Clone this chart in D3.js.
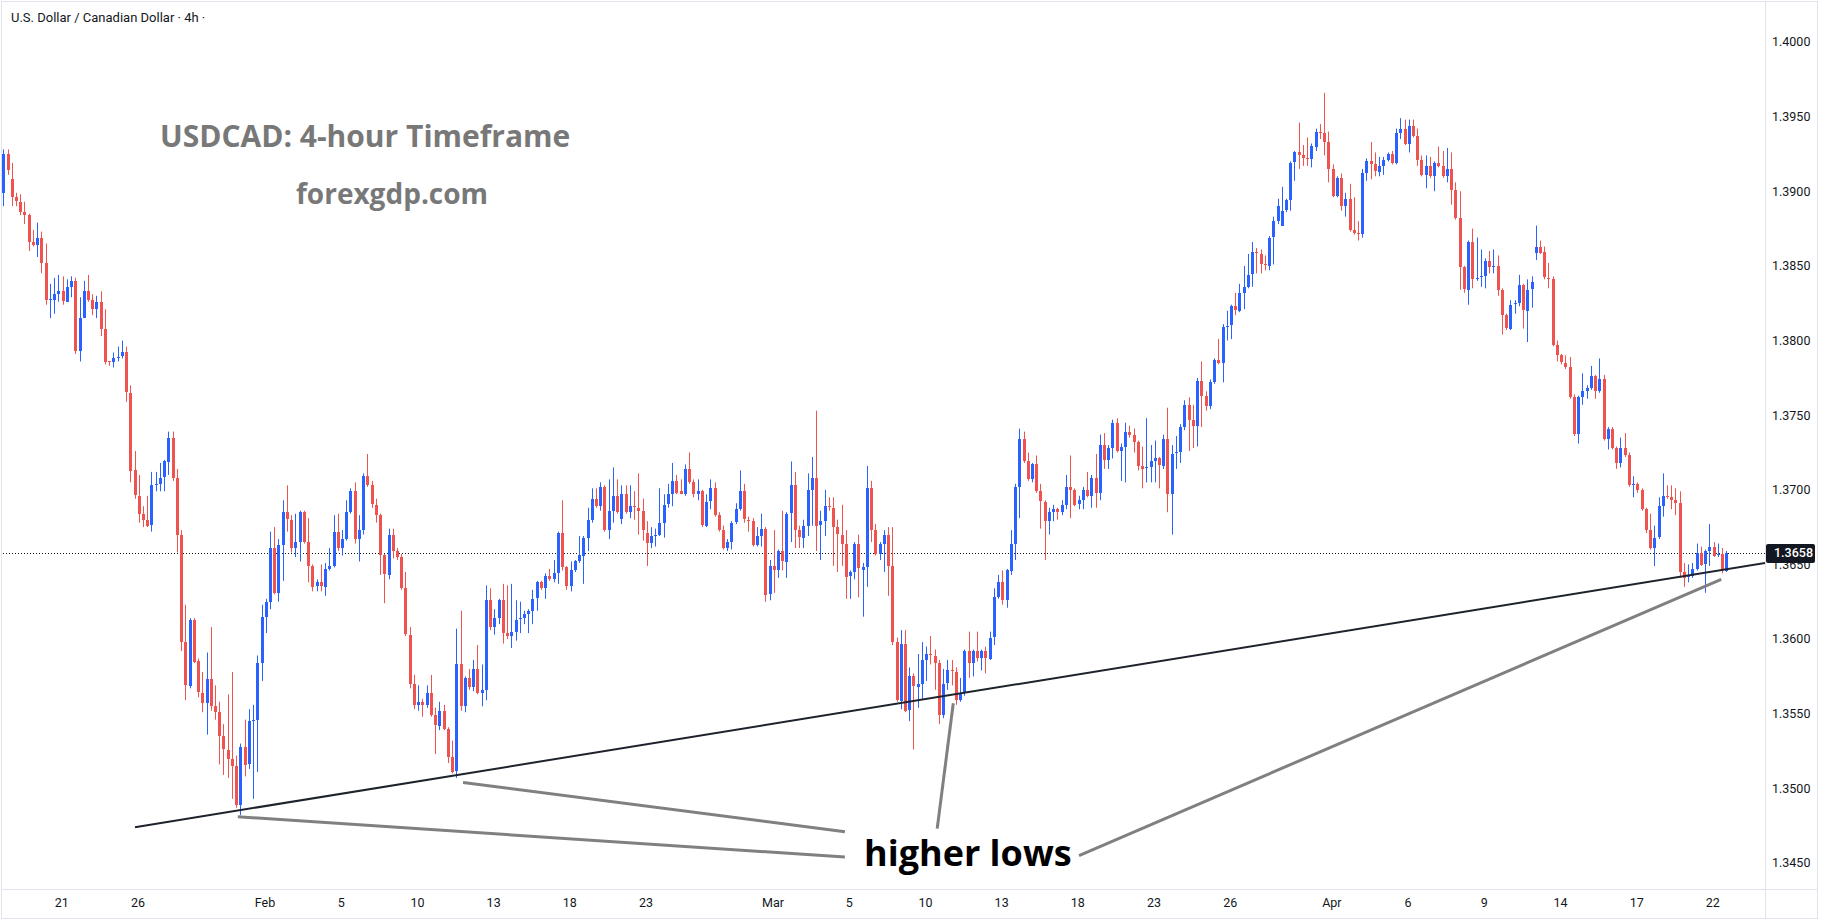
<!DOCTYPE html>
<html>
<head>
<meta charset="utf-8">
<title>USDCAD 4h</title>
<script src="https://cdnjs.cloudflare.com/ajax/libs/d3/7.8.5/d3.min.js"></script>
<style>
	html, body { margin: 0; padding: 0; background: #ffffff; }
	svg { display: block; }
</style>
</head>
<body>
<svg id="chart" width="1823" height="922"></svg>
<script>
// USDCAD 4h candles (one value per candle, left to right)
var opens = [
	1.3899,1.3925,1.3908,1.3896,1.3893,1.3886,1.3884,1.3866,1.3864,1.3869,
	1.3852,1.3827,1.3827,1.3831,1.3833,1.3826,1.3836,1.3840,1.3793,1.3815,
	1.3833,1.3827,1.3821,1.3826,1.3808,1.3786,1.3785,1.3788,1.3789,1.3792,
	1.3765,1.3713,1.3696,1.3684,1.3680,1.3676,1.3703,1.3704,1.3708,1.3719,
	1.3735,1.3708,1.3670,1.3598,1.3569,1.3613,1.3585,1.3564,1.3557,1.3573,
	1.3555,1.3551,1.3535,1.3526,1.3520,1.3515,1.3489,1.3528,1.3516,1.3545,
	1.3546,1.3584,1.3615,1.3625,1.3661,1.3631,1.3663,1.3685,1.3680,1.3661,
	1.3665,1.3685,1.3665,1.3649,1.3635,1.3638,1.3635,1.3647,1.3649,1.3672,
	1.3661,1.3667,1.3685,1.3699,1.3667,1.3673,1.3709,1.3703,1.3690,1.3683,
	1.3656,1.3643,1.3670,1.3659,1.3655,1.3634,1.3603,1.3570,1.3556,1.3558,
	1.3556,1.3564,1.3549,1.3542,1.3552,1.3540,1.3521,1.3511,1.3583,1.3555,
	1.3574,1.3568,1.3580,1.3564,1.3566,1.3626,1.3608,1.3614,1.3626,1.3604,
	1.3602,1.3605,1.3613,1.3614,1.3617,1.3619,1.3627,1.3638,1.3634,1.3642,
	1.3640,1.3644,1.3671,1.3648,1.3635,1.3646,1.3652,1.3656,1.3668,1.3680,
	1.3694,1.3689,1.3702,1.3673,1.3686,1.3696,1.3680,1.3697,1.3685,1.3689,
	1.3688,1.3686,1.3671,1.3664,1.3669,1.3670,1.3678,1.3690,1.3697,1.3706,
	1.3699,1.3697,1.3714,1.3705,1.3697,1.3699,1.3676,1.3692,1.3701,1.3683,
	1.3673,1.3661,1.3665,1.3678,1.3687,1.3699,1.3680,1.3679,1.3663,1.3669,
	1.3674,1.3630,1.3649,1.3646,1.3659,1.3652,1.3684,1.3703,1.3673,1.3668,
	1.3676,1.3700,1.3708,1.3676,1.3679,1.3689,1.3688,1.3675,1.3670,1.3664,
	1.3642,1.3645,1.3664,1.3646,1.3648,1.3701,1.3673,1.3657,1.3664,1.3670,
	1.3649,1.3598,1.3559,1.3597,1.3552,1.3575,1.3568,1.3570,1.3586,1.3590,
	1.3589,1.3584,1.3549,1.3570,1.3579,1.3578,1.3559,1.3564,1.3592,1.3584,
	1.3592,1.3587,1.3592,1.3587,1.3601,1.3628,1.3638,1.3626,1.3646,1.3664,
	1.3702,1.3734,1.3719,1.3707,1.3717,1.3699,1.3692,1.3679,1.3685,1.3687,
	1.3685,1.3690,1.3702,1.3700,1.3690,1.3693,1.3700,1.3696,1.3708,1.3698,
	1.3730,1.3720,1.3728,1.3745,1.3726,1.3729,1.3739,1.3737,1.3732,1.3716,
	1.3714,1.3715,1.3719,1.3721,1.3716,1.3734,1.3697,1.3724,1.3725,1.3742,
	1.3757,1.3747,1.3743,1.3773,1.3763,1.3756,1.3772,1.3787,1.3785,1.3809,
	1.3810,1.3823,1.3820,1.3832,1.3836,1.3844,1.3859,1.3858,1.3851,1.3850,
	1.3869,1.3880,1.3877,1.3887,1.3894,1.3919,1.3926,1.3924,1.3922,1.3921,
	1.3930,1.3940,1.3939,1.3933,1.3915,1.3897,1.3909,1.3890,1.3895,1.3874,
	1.3872,1.3871,1.3912,1.3920,1.3918,1.3913,1.3917,1.3921,1.3925,1.3919,
	1.3939,1.3942,1.3932,1.3944,1.3937,1.3921,1.3911,1.3917,1.3910,1.3919,
	1.3917,1.3910,1.3915,1.3901,1.3882,1.3849,1.3834,1.3866,1.3841,1.3842,
	1.3843,1.3853,1.3849,1.3850,1.3834,1.3817,1.3808,1.3824,1.3825,1.3837,
	1.3820,1.3834,1.3859,1.3863,1.3859,1.3842,1.3841,1.3797,1.3790,1.3785,
	1.3782,1.3762,1.3737,1.3762,1.3766,1.3768,1.3776,1.3766,1.3774,1.3734,
	1.3741,1.3728,1.3718,1.3728,1.3723,1.3703,1.3704,1.3700,1.3687,1.3673,
	1.3661,1.3668,1.3689,1.3696,1.3695,1.3693,1.3691,1.3645,1.3641,1.3642,
	1.3647,1.3658,1.3650,1.3659,1.3662,1.3656,1.3657,1.3646
];

var highs = [
	1.3928,1.3928,1.3919,1.3899,1.3898,1.3893,1.3885,1.3874,1.3879,1.3873,
	1.3865,1.3838,1.3842,1.3844,1.3843,1.3841,1.3843,1.3842,1.3829,1.3840,
	1.3844,1.3831,1.3830,1.3833,1.3821,1.3786,1.3792,1.3796,1.3800,1.3796,
	1.3770,1.3726,1.3710,1.3689,1.3696,1.3712,1.3712,1.3718,1.3720,1.3739,
	1.3739,1.3714,1.3673,1.3623,1.3614,1.3614,1.3587,1.3578,1.3591,1.3608,
	1.3569,1.3558,1.3543,1.3563,1.3578,1.3522,1.3530,1.3546,1.3553,1.3556,
	1.3589,1.3623,1.3627,1.3672,1.3675,1.3667,1.3693,1.3703,1.3683,1.3684,
	1.3686,1.3686,1.3681,1.3650,1.3640,1.3650,1.3651,1.3661,1.3683,1.3684,
	1.3673,1.3693,1.3701,1.3705,1.3683,1.3711,1.3724,1.3706,1.3694,1.3684,
	1.3657,1.3674,1.3674,1.3661,1.3657,1.3645,1.3608,1.3576,1.3569,1.3560,
	1.3569,1.3576,1.3554,1.3558,1.3556,1.3541,1.3532,1.3607,1.3619,1.3575,
	1.3580,1.3586,1.3596,1.3583,1.3636,1.3634,1.3620,1.3627,1.3637,1.3636,
	1.3637,1.3626,1.3625,1.3619,1.3620,1.3633,1.3639,1.3639,1.3644,1.3647,
	1.3653,1.3672,1.3693,1.3649,1.3652,1.3653,1.3669,1.3669,1.3688,1.3701,
	1.3701,1.3705,1.3703,1.3707,1.3715,1.3707,1.3703,1.3703,1.3703,1.3699,
	1.3711,1.3694,1.3679,1.3675,1.3674,1.3701,1.3697,1.3704,1.3718,1.3710,
	1.3707,1.3717,1.3725,1.3707,1.3707,1.3700,1.3697,1.3707,1.3705,1.3685,
	1.3676,1.3667,1.3679,1.3691,1.3713,1.3704,1.3682,1.3681,1.3675,1.3684,
	1.3675,1.3653,1.3673,1.3660,1.3686,1.3685,1.3719,1.3712,1.3676,1.3680,
	1.3711,1.3722,1.3753,1.3686,1.3700,1.3695,1.3695,1.3680,1.3690,1.3673,
	1.3646,1.3665,1.3670,1.3651,1.3716,1.3706,1.3677,1.3665,1.3673,1.3675,
	1.3675,1.3601,1.3606,1.3606,1.3581,1.3577,1.3590,1.3598,1.3595,1.3602,
	1.3593,1.3586,1.3580,1.3586,1.3586,1.3581,1.3574,1.3593,1.3605,1.3593,
	1.3605,1.3593,1.3595,1.3605,1.3634,1.3643,1.3646,1.3647,1.3673,1.3704,
	1.3741,1.3739,1.3725,1.3718,1.3723,1.3704,1.3693,1.3688,1.3690,1.3688,
	1.3693,1.3710,1.3723,1.3701,1.3696,1.3702,1.3712,1.3710,1.3724,1.3737,
	1.3738,1.3730,1.3747,1.3748,1.3731,1.3745,1.3743,1.3741,1.3733,1.3729,
	1.3748,1.3730,1.3733,1.3722,1.3737,1.3755,1.3730,1.3736,1.3744,1.3760,
	1.3762,1.3757,1.3775,1.3786,1.3766,1.3774,1.3788,1.3801,1.3811,1.3820,
	1.3824,1.3832,1.3838,1.3850,1.3858,1.3866,1.3862,1.3861,1.3857,1.3870,
	1.3883,1.3895,1.3903,1.3895,1.3920,1.3927,1.3946,1.3931,1.3936,1.3932,
	1.3942,1.3945,1.3966,1.3940,1.3918,1.3910,1.3912,1.3899,1.3905,1.3896,
	1.3880,1.3915,1.3922,1.3933,1.3926,1.3923,1.3923,1.3926,1.3927,1.3942,
	1.3949,1.3948,1.3948,1.3948,1.3942,1.3924,1.3924,1.3923,1.3920,1.3930,
	1.3927,1.3929,1.3926,1.3906,1.3900,1.3850,1.3867,1.3875,1.3869,1.3861,
	1.3855,1.3860,1.3861,1.3857,1.3835,1.3818,1.3827,1.3827,1.3844,1.3838,
	1.3841,1.3843,1.3877,1.3867,1.3863,1.3852,1.3843,1.3800,1.3791,1.3790,
	1.3789,1.3764,1.3763,1.3778,1.3770,1.3783,1.3777,1.3788,1.3777,1.3742,
	1.3742,1.3729,1.3735,1.3738,1.3725,1.3709,1.3705,1.3701,1.3688,1.3684,
	1.3676,1.3695,1.3711,1.3703,1.3703,1.3701,1.3699,1.3651,1.3650,1.3651,
	1.3664,1.3662,1.3660,1.3677,1.3665,1.3664,1.3661,1.3659
];

var lows = [
	1.3890,1.3911,1.3890,1.3890,1.3884,1.3878,1.3860,1.3863,1.3856,1.3845,
	1.3824,1.3815,1.3818,1.3826,1.3824,1.3826,1.3829,1.3791,1.3786,1.3815,
	1.3826,1.3817,1.3815,1.3803,1.3784,1.3783,1.3782,1.3786,1.3788,1.3759,
	1.3705,1.3694,1.3678,1.3675,1.3675,1.3672,1.3699,1.3699,1.3699,1.3710,
	1.3706,1.3658,1.3592,1.3559,1.3567,1.3584,1.3561,1.3551,1.3536,1.3552,
	1.3546,1.3516,1.3509,1.3507,1.3493,1.3487,1.3482,1.3508,1.3513,1.3493,
	1.3511,1.3572,1.3604,1.3620,1.3630,1.3625,1.3639,1.3672,1.3658,1.3655,
	1.3652,1.3664,1.3638,1.3632,1.3632,1.3632,1.3629,1.3646,1.3648,1.3659,
	1.3656,1.3666,1.3684,1.3664,1.3652,1.3670,1.3702,1.3688,1.3678,1.3643,
	1.3624,1.3640,1.3654,1.3653,1.3633,1.3602,1.3567,1.3553,1.3552,1.3548,
	1.3554,1.3548,1.3523,1.3539,1.3539,1.3517,1.3510,1.3507,1.3552,1.3551,
	1.3566,1.3565,1.3563,1.3555,1.3559,1.3606,1.3603,1.3610,1.3597,1.3600,
	1.3594,1.3599,1.3604,1.3610,1.3604,1.3610,1.3619,1.3633,1.3627,1.3639,
	1.3638,1.3637,1.3646,1.3633,1.3632,1.3645,1.3651,1.3637,1.3659,1.3678,
	1.3688,1.3686,1.3672,1.3667,1.3678,1.3684,1.3677,1.3684,1.3681,1.3680,
	1.3670,1.3666,1.3649,1.3661,1.3662,1.3669,1.3668,1.3688,1.3689,1.3697,
	1.3697,1.3696,1.3704,1.3695,1.3693,1.3675,1.3675,1.3687,1.3682,1.3672,
	1.3660,1.3659,1.3660,1.3677,1.3686,1.3678,1.3672,1.3662,1.3662,1.3662,
	1.3625,1.3626,1.3631,1.3641,1.3646,1.3641,1.3665,1.3661,1.3661,1.3661,
	1.3669,1.3676,1.3659,1.3653,1.3669,1.3686,1.3649,1.3645,1.3649,1.3627,
	1.3627,1.3640,1.3628,1.3615,1.3635,1.3665,1.3656,1.3653,1.3645,1.3629,
	1.3596,1.3558,1.3553,1.3551,1.3545,1.3526,1.3554,1.3560,1.3572,1.3583,
	1.3566,1.3543,1.3547,1.3566,1.3569,1.3556,1.3558,1.3562,1.3574,1.3575,
	1.3585,1.3579,1.3577,1.3586,1.3596,1.3627,1.3623,1.3621,1.3643,1.3653,
	1.3681,1.3718,1.3706,1.3705,1.3698,1.3674,1.3653,1.3670,1.3679,1.3680,
	1.3683,1.3687,1.3681,1.3689,1.3687,1.3687,1.3695,1.3688,1.3688,1.3693,
	1.3714,1.3714,1.3721,1.3725,1.3706,1.3705,1.3735,1.3725,1.3713,1.3701,
	1.3705,1.3705,1.3705,1.3701,1.3714,1.3685,1.3670,1.3714,1.3718,1.3740,
	1.3726,1.3728,1.3729,1.3742,1.3753,1.3754,1.3771,1.3784,1.3772,1.3800,
	1.3801,1.3817,1.3819,1.3821,1.3835,1.3836,1.3845,1.3845,1.3847,1.3847,
	1.3851,1.3878,1.3877,1.3886,1.3887,1.3907,1.3915,1.3917,1.3917,1.3916,
	1.3927,1.3935,1.3924,1.3906,1.3896,1.3896,1.3887,1.3883,1.3873,1.3871,
	1.3867,1.3869,1.3907,1.3908,1.3910,1.3910,1.3911,1.3920,1.3918,1.3918,
	1.3935,1.3931,1.3926,1.3936,1.3917,1.3910,1.3902,1.3909,1.3900,1.3916,
	1.3909,1.3906,1.3891,1.3881,1.3834,1.3832,1.3824,1.3835,1.3840,1.3836,
	1.3835,1.3845,1.3845,1.3830,1.3804,1.3807,1.3807,1.3818,1.3823,1.3808,
	1.3799,1.3822,1.3854,1.3858,1.3841,1.3835,1.3796,1.3786,1.3784,1.3781,
	1.3761,1.3736,1.3731,1.3757,1.3761,1.3767,1.3761,1.3765,1.3733,1.3727,
	1.3727,1.3714,1.3715,1.3722,1.3702,1.3695,1.3698,1.3686,1.3671,1.3660,
	1.3649,1.3667,1.3682,1.3694,1.3687,1.3683,1.3641,1.3635,1.3638,1.3641,
	1.3646,1.3649,1.3631,1.3649,1.3655,1.3655,1.3644,1.3645
];

var closes = [
	1.3925,1.3914,1.3896,1.3893,1.3886,1.3884,1.3866,1.3864,1.3869,1.3852,
	1.3827,1.3828,1.3831,1.3833,1.3826,1.3836,1.3840,1.3793,1.3815,1.3833,
	1.3827,1.3821,1.3826,1.3808,1.3786,1.3785,1.3788,1.3789,1.3792,1.3765,
	1.3713,1.3696,1.3684,1.3680,1.3676,1.3703,1.3704,1.3708,1.3719,1.3735,
	1.3708,1.3670,1.3598,1.3569,1.3613,1.3585,1.3564,1.3557,1.3573,1.3555,
	1.3551,1.3535,1.3526,1.3520,1.3515,1.3489,1.3528,1.3516,1.3545,1.3546,
	1.3584,1.3615,1.3625,1.3661,1.3631,1.3663,1.3685,1.3680,1.3661,1.3665,
	1.3685,1.3665,1.3649,1.3635,1.3638,1.3635,1.3647,1.3649,1.3672,1.3661,
	1.3667,1.3685,1.3699,1.3667,1.3673,1.3709,1.3703,1.3690,1.3683,1.3656,
	1.3643,1.3670,1.3659,1.3655,1.3634,1.3603,1.3570,1.3556,1.3558,1.3556,
	1.3564,1.3549,1.3542,1.3552,1.3540,1.3521,1.3511,1.3583,1.3555,1.3574,
	1.3568,1.3580,1.3564,1.3566,1.3626,1.3608,1.3614,1.3626,1.3604,1.3602,
	1.3605,1.3613,1.3614,1.3617,1.3619,1.3627,1.3638,1.3634,1.3642,1.3640,
	1.3644,1.3671,1.3648,1.3635,1.3646,1.3652,1.3656,1.3668,1.3680,1.3694,
	1.3689,1.3702,1.3673,1.3686,1.3696,1.3685,1.3697,1.3685,1.3689,1.3688,
	1.3686,1.3673,1.3664,1.3669,1.3670,1.3678,1.3690,1.3697,1.3706,1.3698,
	1.3697,1.3714,1.3705,1.3697,1.3699,1.3676,1.3692,1.3701,1.3683,1.3673,
	1.3661,1.3665,1.3678,1.3687,1.3699,1.3680,1.3679,1.3663,1.3669,1.3674,
	1.3630,1.3649,1.3646,1.3659,1.3652,1.3684,1.3703,1.3673,1.3668,1.3676,
	1.3700,1.3708,1.3676,1.3679,1.3689,1.3688,1.3675,1.3670,1.3664,1.3642,
	1.3645,1.3664,1.3648,1.3648,1.3701,1.3673,1.3657,1.3664,1.3670,1.3649,
	1.3598,1.3559,1.3597,1.3552,1.3575,1.3568,1.3570,1.3586,1.3590,1.3589,
	1.3584,1.3549,1.3570,1.3579,1.3578,1.3559,1.3564,1.3592,1.3584,1.3592,
	1.3587,1.3592,1.3587,1.3601,1.3628,1.3638,1.3626,1.3646,1.3664,1.3702,
	1.3734,1.3719,1.3707,1.3717,1.3699,1.3692,1.3679,1.3685,1.3687,1.3685,
	1.3690,1.3702,1.3700,1.3690,1.3693,1.3700,1.3696,1.3708,1.3698,1.3730,
	1.3720,1.3728,1.3745,1.3726,1.3729,1.3739,1.3737,1.3732,1.3716,1.3714,
	1.3715,1.3719,1.3721,1.3716,1.3734,1.3697,1.3724,1.3725,1.3742,1.3757,
	1.3747,1.3743,1.3773,1.3763,1.3756,1.3772,1.3787,1.3785,1.3809,1.3810,
	1.3823,1.3820,1.3832,1.3836,1.3844,1.3859,1.3858,1.3851,1.3850,1.3869,
	1.3880,1.3890,1.3887,1.3894,1.3919,1.3926,1.3924,1.3922,1.3921,1.3930,
	1.3940,1.3939,1.3933,1.3915,1.3897,1.3909,1.3890,1.3895,1.3874,1.3872,
	1.3871,1.3912,1.3920,1.3918,1.3913,1.3917,1.3921,1.3925,1.3919,1.3939,
	1.3942,1.3932,1.3944,1.3937,1.3921,1.3911,1.3917,1.3910,1.3919,1.3917,
	1.3910,1.3915,1.3901,1.3882,1.3849,1.3834,1.3866,1.3841,1.3842,1.3843,
	1.3853,1.3849,1.3850,1.3834,1.3817,1.3808,1.3824,1.3825,1.3837,1.3820,
	1.3834,1.3839,1.3863,1.3859,1.3842,1.3841,1.3797,1.3790,1.3785,1.3782,
	1.3762,1.3737,1.3762,1.3766,1.3768,1.3776,1.3766,1.3774,1.3734,1.3741,
	1.3728,1.3718,1.3728,1.3723,1.3703,1.3704,1.3700,1.3687,1.3673,1.3661,
	1.3668,1.3689,1.3696,1.3695,1.3693,1.3691,1.3645,1.3641,1.3642,1.3647,
	1.3658,1.3650,1.3659,1.3662,1.3656,1.3657,1.3646,1.3658
];

// axis labels
var priceTicks = [1.3450, 1.3500, 1.3550, 1.3600, 1.3650, 1.3700, 1.3750, 1.3800, 1.3850, 1.3900, 1.3950, 1.4000];
var dateTicks = ["21", "26", "Feb", "5", "10", "13", "18", "23", "Mar", "5", "10", "13", "18", "23", "26", "Apr", "6", "9", "14", "17", "22"];
var dateTickCandles = [13, 31, 61, 79, 97, 115, 133, 151, 181, 199, 217, 235, 253, 271, 289, 313, 331, 349, 367, 385, 403];
var lastPrice = 1.3658;

// drawn lines, as [candle, price] pairs
var trendLine = [[31.1, 1.3474], [416.2, 1.3651]];
var pointerLines = [
	[[55.4, 1.3481], [198.8, 1.3454]],
	[[108.6, 1.3504], [198.8, 1.3471]],
	[[224.4, 1.3557], [220.6, 1.3473]],
	[[405.8, 1.3640], [254.1, 1.3455]]
];

if (opens.length !== closes.length || highs.length !== closes.length || lows.length !== closes.length) {
	throw new Error('length mismatch ' + opens.length + ' ' + highs.length + ' ' + lows.length + ' ' + closes.length);
}

// layout
//- - - - - - - - - - - - - - - - - - - - - -
var W = 1823, H = 922;
var paneRight = 1765, paneBottom = 889;
var upColor = '#2962ff', downColor = '#ef5350';
var axisFont = 'Roboto, "Liberation Sans", sans-serif';

var svg = d3.select('#chart');

var x = d3.scaleLinear().domain([0, closes.length - 1]).range([3.3, 1726.3]);
var y = d3.scaleLinear().domain([1.3450, 1.4000]).range([863, 42]);

svg.append('rect')
	.attr('width', W).attr('height', H)
	.attr('fill', '#ffffff');

// frame and axis separators
svg.append('rect')
	.attr('x', 1.5).attr('y', 1.5)
	.attr('width', 1816).attr('height', 917)
	.attr('fill', 'none')
	.attr('stroke', '#e0e3eb');

svg.append('line')
	.attr('x1', 1.5).attr('x2', 1817.5)
	.attr('y1', paneBottom + 0.5).attr('y2', paneBottom + 0.5)
	.attr('stroke', '#e0e3eb');

svg.append('line')
	.attr('x1', paneRight + 0.5).attr('x2', paneRight + 0.5)
	.attr('y1', 1.5).attr('y2', 918.5)
	.attr('stroke', '#e0e3eb');

var pane = svg.append('g');

pane.append('clipPath').attr('id', 'paneClip')
	.append('rect')
	.attr('x', 2).attr('y', 2)
	.attr('width', paneRight - 2).attr('height', paneBottom - 2);

var plot = pane.append('g').attr('clip-path', 'url(#paneClip)');

// last price dotted line
plot.append('line')
	.attr('x1', 0).attr('x2', paneRight)
	.attr('y1', Math.round(y(lastPrice)) + 0.5)
	.attr('y2', Math.round(y(lastPrice)) + 0.5)
	.attr('stroke', '#131722')
	.attr('stroke-width', 1)
	.attr('stroke-dasharray', '1,2');

// candles
//- - - - - - - - - - - - - - - - - - - - - -
var candles = closes.map(function(c, i) {
	return { i: i, o: opens[i], h: highs[i], l: lows[i], c: c };
});

var candle = plot.selectAll('g.candle')
	.data(candles)
	.enter()
	.append('g')
	.attr('class', 'candle')
	.attr('fill', function(d) { return d.c >= d.o ? upColor : downColor; })
	.attr('stroke', function(d) { return d.c >= d.o ? upColor : downColor; });

candle.append('line')
	.attr('x1', function(d) { return Math.round(x(d.i)) + 0.5; })
	.attr('x2', function(d) { return Math.round(x(d.i)) + 0.5; })
	.attr('y1', function(d) { return y(d.h); })
	.attr('y2', function(d) { return y(d.l); })
	.attr('stroke-width', 1);

candle.append('rect')
	.attr('x', function(d) { return Math.round(x(d.i)) - 1; })
	.attr('y', function(d) { return Math.round(y(Math.max(d.o, d.c))); })
	.attr('width', 3)
	.attr('height', function(d) { return Math.max(1, Math.round(Math.abs(y(d.o) - y(d.c)))); })
	.attr('stroke', 'none');

// trend line and pointers
//- - - - - - - - - - - - - - - - - - - - - -
var line = d3.line()
	.x(function(p) { return x(p[0]); })
	.y(function(p) { return y(p[1]); });

plot.selectAll('path.pointer')
	.data(pointerLines)
	.enter()
	.append('path')
	.attr('class', 'pointer')
	.attr('d', line)
	.attr('fill', 'none')
	.attr('stroke', '#808080')
	.attr('stroke-width', 3);

plot.append('path')
	.attr('d', line(trendLine))
	.attr('fill', 'none')
	.attr('stroke', '#1e222d')
	.attr('stroke-width', 2);

// annotation texts
svg.append('text')
	.attr('x', 864).attr('y', 866)
	.attr('font-family', '"Open Sans", sans-serif')
	.attr('font-weight', 700)
	.attr('font-size', 36)
	.attr('fill', '#000000')
	.text('higher lows');

svg.append('text')
	.attr('x', 160).attr('y', 147)
	.attr('font-family', '"Open Sans", sans-serif')
	.attr('font-weight', 700)
	.attr('font-size', 30)
	.attr('fill', '#787878')
	.text('USDCAD: 4-hour Timeframe');

svg.append('text')
	.attr('x', 296).attr('y', 204)
	.attr('font-family', '"Open Sans", sans-serif')
	.attr('font-weight', 700)
	.attr('font-size', 28)
	.attr('fill', '#787878')
	.text('forexgdp.com');

svg.append('text')
	.attr('x', 11).attr('y', 21.5)
	.attr('font-family', axisFont)
	.attr('font-size', 13)
	.attr('fill', '#131722')
	.text('U.S. Dollar / Canadian Dollar \u00b7 4h \u00b7');

// price axis
//- - - - - - - - - - - - - - - - - - - - - -
svg.append('g')
	.selectAll('text')
	.data(priceTicks)
	.enter()
	.append('text')
	.attr('x', 1772)
	.attr('y', function(d) { return y(d); })
	.attr('dy', '0.35em')
	.attr('font-family', axisFont)
	.attr('font-size', 12.5)
	.attr('fill', '#131722')
	.text(d3.format('.4f'));

var tag = svg.append('g');
tag.append('rect')
	.attr('x', paneRight + 1).attr('y', Math.round(y(lastPrice)) - 9)
	.attr('width', 49).attr('height', 19)
	.attr('rx', 2)
	.attr('fill', '#131722');
tag.append('text')
	.attr('x', 1774)
	.attr('y', y(lastPrice) + 0.5)
	.attr('dy', '0.35em')
	.attr('font-family', axisFont)
	.attr('font-size', 12.5)
	.attr('font-weight', 500)
	.attr('fill', '#ffffff')
	.text(d3.format('.4f')(lastPrice));

// time axis
//- - - - - - - - - - - - - - - - - - - - - -
var labelShift = 3.5;
svg.append('g')
	.selectAll('text')
	.data(dateTicks)
	.enter()
	.append('text')
	.attr('x', function(d, i) { return x(dateTickCandles[i]) + labelShift; })
	.attr('y', 903)
	.attr('dy', '0.35em')
	.attr('text-anchor', 'middle')
	.attr('font-family', axisFont)
	.attr('font-size', 12.5)
	.attr('fill', '#131722')
	.text(function(d) { return d; });
</script>
</body>
</html>
